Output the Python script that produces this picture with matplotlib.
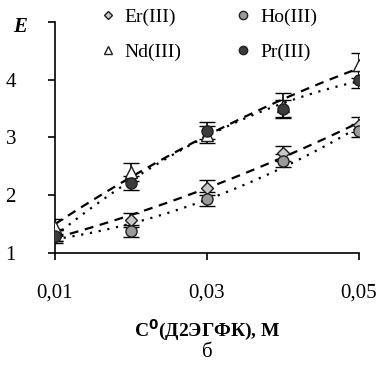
import numpy as np
import matplotlib.pyplot as plt
from matplotlib.lines import Line2D

# ==========================================
#  Data
# ==========================================
conc = [0.01, 0.02, 0.03, 0.04, 0.05]

er_vals = [1.30, 1.57, 2.13, 2.73, 3.22]
ho_vals = [1.30, 1.38, 1.93, 2.60, 3.12]
nd_vals = [1.45, 2.40, 3.05, 3.55, 4.25]
pr_vals = [1.30, 2.21, 3.12, 3.50, 4.00]

er_err = [0.12, 0.12, 0.13, 0.13, 0.13]
ho_err = [0.10, 0.10, 0.12, 0.12, 0.12]
nd_err = [0.13, 0.15, 0.15, 0.22, 0.22]
pr_err = [0.10, 0.12, 0.15, 0.15, 0.15]

x_ticks = [0.01, 0.03, 0.05]
x_tick_labels = ["0,01", "0,03", "0,05"]
y_ticks = [1, 2, 3, 4, 5]
y_tick_labels = ["1", "2", "3", "4", ""]

series = [
    ("Er(III)", er_vals, er_err, "D", "#c8c8c8", 6, (0, (4, 3))),
    ("Ho(III)", ho_vals, ho_err, "o", "#9a9a9a", 8, (0, (1, 3))),
    ("Nd(III)", nd_vals, nd_err, "^", "white", 8, (0, (4, 3))),
    ("Pr(III)", pr_vals, pr_err, "o", "#3c3c3c", 8, (0, (1, 3))),
]

plt.rcParams['font.family'] = ['Liberation Serif', 'DejaVu Serif']

fig = plt.figure(figsize=(3.81, 3.66), dpi=100)
ax = fig.add_axes([0.144, 0.309, 0.798, 0.631])

# quadratic trend lines, one per series
xfit = np.linspace(0.01, 0.05, 100)
for name, vals, err, mk, fc, ms, ls in series:
    coef = np.polyfit(conc, vals, 2)
    ax.plot(xfit, np.polyval(coef, xfit), color="black", lw=1.6, linestyle=ls, zorder=2)

for name, vals, err, mk, fc, ms, ls in series:
    ax.errorbar(conc, vals, yerr=err, fmt=mk, ms=ms, mfc=fc, mec="#202020", mew=1.0,
                ecolor="black", elinewidth=1.2, capsize=6, capthick=1.2, zorder=3)

ax.set_xlim(0.01, 0.05)
ax.set_ylim(1, 5)
ax.set_xticks(x_ticks)
ax.set_xticklabels(x_tick_labels)
ax.set_yticks(y_ticks)
ax.set_yticklabels(y_tick_labels)
ax.tick_params(direction="out", length=5, width=1.2, labelsize=15)
ax.tick_params(axis="x", pad=17)
ax.tick_params(axis="y", pad=23)
ax.spines["top"].set_visible(False)
ax.spines["right"].set_visible(False)
for s in ["left", "bottom"]:
    ax.spines[s].set_linewidth(1.2)

fig.text(0.052, 0.925, "E", fontsize=15, fontweight="bold", fontstyle="italic", ha="center", va="center")
fig.text(0.543, 0.098, "C$^{\\mathbf{0}}$(Д2ЭГФК), М", fontsize=14, fontweight="bold", ha="center", va="center")
fig.text(0.543, 0.038, "б", fontsize=15, ha="center", va="center")

# column-wise fill: Er, Nd | Ho, Pr
order = [0, 2, 1, 3]
handles = []
for i in order:
    name, vals, err, mk, fc, ms, ls = series[i]
    handles.append(Line2D([], [], marker=mk, ls="none", ms=ms * 0.75, mfc=fc, mec="#202020",
                          mew=1.0, label=name))
fig.legend(handles=handles, ncol=2, loc="upper left", bbox_to_anchor=(0.252, 0.978), frameon=False,
           fontsize=14, handletextpad=0.25, columnspacing=2.6, labelspacing=0.9, handlelength=1.2,
           borderpad=0, borderaxespad=0)

fig.savefig("out.png", dpi=100)
